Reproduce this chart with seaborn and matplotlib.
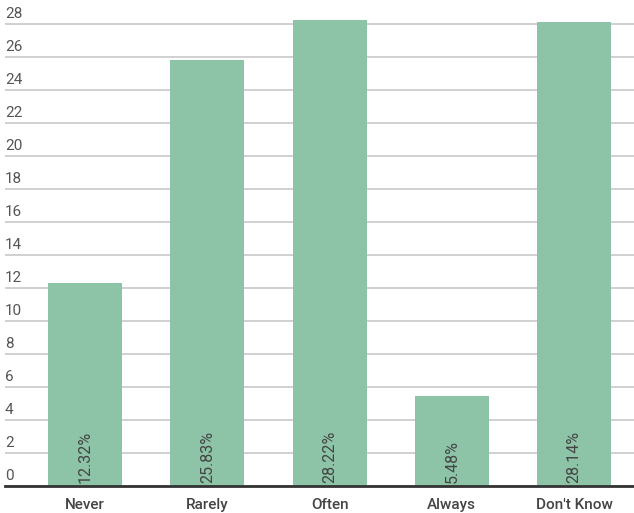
import matplotlib
matplotlib.use("Agg")
import matplotlib.pyplot as plt
import matplotlib.transforms as mtransforms
import seaborn as sns
import pandas as pd

# data
answers = ["Never", "Rarely", "Often", "Always", "Don't Know"]
share_pct = [12.32, 25.83, 28.22, 5.48, 28.14]
y_ticks = list(range(0, 30, 2))

sns.set_style("white")
plt.rcParams['font.family'] = ['Roboto', 'DejaVu Sans']

df = pd.DataFrame({"answer": answers, "pct": share_pct})

fig = plt.figure(figsize=(6.34, 5.13), dpi=100)
ax = fig.add_axes([5 / 634, 27 / 513, 629 / 634, 472 / 513])

sns.barplot(x="answer", y="pct", data=df, color="#8dc3a7", saturation=1,
            width=0.605, ax=ax, zorder=3, edgecolor="none")

ax.set_xlim(-0.655, 4.49)
ax.set_ylim(0, 28.6)
ax.set_yticks(y_ticks)
ax.set_yticklabels([])
ax.tick_params(axis="y", length=0)
ax.tick_params(axis="x", length=0, pad=8.5, labelsize=11, labelcolor="#444444")
for lbl in ax.get_xticklabels():
    lbl.set_fontweight("medium")
ax.grid(axis="y", color="#c8c8c8", linewidth=1.2, zorder=0)
ax.set_xlabel("")
ax.set_ylabel("")
for side in ["top", "right", "left"]:
    ax.spines[side].set_visible(False)
ax.spines["bottom"].set_color("#333333")
ax.spines["bottom"].set_linewidth(2)
ax.spines["bottom"].set_zorder(5)

# y labels sit above each gridline at the left
trans = mtransforms.blended_transform_factory(ax.transAxes, ax.transData)
offset = mtransforms.offset_copy(trans, fig=fig, x=0, y=3, units="dots")
for t in y_ticks:
    ax.text(0, t, str(t), transform=offset, ha="left", va="bottom",
            fontsize=11, color="#555555")

# rotated percentage labels inside the bars
for i, v in enumerate(share_pct):
    ax.text(i, 0.2, f"{v:.2f}%", rotation=90, ha="center", va="bottom",
            fontsize=11.5, color="#444444", zorder=4)

fig.savefig("out.png", dpi=100)
